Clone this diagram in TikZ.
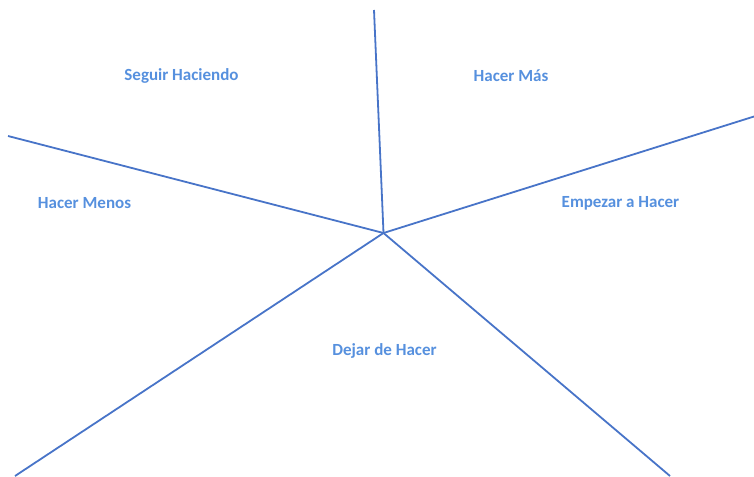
\documentclass[tikz,border=0pt]{standalone}
\usepackage{fontspec}
\setmainfont{Carlito}
\definecolor{lineablue}{RGB}{72,116,200}
\definecolor{textoblue}{RGB}{86,144,222}
\newlength{\du}
\setlength{\du}{1pt}
\tikzset{
  raya/.style={draw=lineablue, line width=1.8\du},
  etiqueta/.style={text=textoblue, font=\fontsize{17}{19}\selectfont\bfseries, inner sep=0pt}
}
\begin{document}
\begin{tikzpicture}
\pgftransformyscale{-1.000000}
\useasboundingbox (0\du,0\du) rectangle (754\du,476\du);
% centro y extremos
\coordinate (centro) at (383.500000\du,233.000000\du);
\coordinate (arriba) at (374.000000\du,10.000000\du);
\coordinate (izq) at (8.000000\du,136.000000\du);
\coordinate (der) at (754.000000\du,116.500000\du);
\coordinate (abajoizq) at (15.000000\du,476.000000\du);
\coordinate (abajoder) at (670.000000\du,476.000000\du);
\draw[raya] (centro)--(arriba);
\draw[raya] (centro)--(izq);
\draw[raya] (centro)--(der);
\draw[raya] (centro)--(abajoizq);
\draw[raya] (centro)--(abajoder);
% textos
\node[etiqueta] (seguir) at (181.500000\du,76.000000\du){Seguir Haciendo};
\node[etiqueta] (mas) at (511.000000\du,76.000000\du){Hacer Más};
\node[etiqueta] (menos) at (84.500000\du,203.000000\du){Hacer Menos};
\node[etiqueta] (empezar) at (620.500000\du,203.000000\du){Empezar a Hacer};
\node[etiqueta] (dejar) at (384.500000\du,351.000000\du){Dejar de Hacer};
\end{tikzpicture}
\end{document}
